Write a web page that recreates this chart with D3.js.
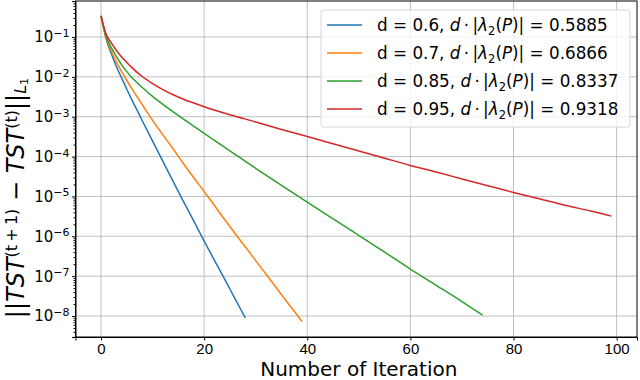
<!DOCTYPE html>
<html>
<head>
<meta charset="utf-8">
<script src="https://cdn.jsdelivr.net/npm/d3@7"></script>
<style>
  body { margin: 0; background: #fff; }
  svg { font-family: "DejaVu Sans", sans-serif; }
</style>
</head>
<body>
<div id="chart"></div>
<script>
// values (iteration, residual)
var blueIter = [0, 1, 2, 3, 4, 5, 6, 7, 8, 10, 12, 14, 16, 18, 20, 22, 24, 26, 28];
var blueVals = [3.4e-1, 8.9e-2, 3.8e-2, 1.8e-2, 9.3e-3, 4.9e-3, 2.6e-3, 1.45e-3, 7.9e-4, 2.45e-4, 7.6e-5,
  2.35e-5, 7.4e-6, 2.4e-6, 7.6e-7, 2.5e-7, 8.3e-8, 2.7e-8, 8.9e-9];

var orangeIter = [0, 1, 2, 3, 4, 5, 6, 7, 8, 9, 10, 12, 14, 16, 18, 20, 22, 24, 26, 28, 30, 32, 34, 36, 38, 39];
var orangeVals = [3.4e-1, 9.5e-2, 4.4e-2, 2.35e-2, 1.35e-2, 8.1e-3, 5.0e-3, 3.16e-3, 2.0e-3, 1.26e-3, 8.1e-4,
  3.5e-4, 1.55e-4, 6.6e-5, 2.95e-5, 1.32e-5, 5.9e-6, 2.6e-6, 1.17e-6, 5.4e-7, 2.45e-7, 1.12e-7,
  5.1e-8, 2.3e-8, 1.07e-8, 7.2e-9];

var greenIter = [0, 1, 2, 3, 4, 5, 6, 7, 8, 10, 12, 14, 16, 18, 20, 22, 24, 26, 28, 30, 35, 40, 45, 50, 55, 60, 65, 70, 74];
var greenVals = [3.4e-1, 1.05e-1, 5.4e-2, 3.2e-2, 2.0e-2, 1.35e-2, 9.5e-3, 7.1e-3, 5.4e-3, 3.24e-3, 2.04e-3,
  1.32e-3, 8.7e-4, 5.75e-4, 3.8e-4, 2.54e-4, 1.7e-4, 1.135e-4, 7.6e-5, 5.07e-5, 1.9e-5, 7.2e-6,
  2.75e-6, 1.05e-6, 4.0e-7, 1.5e-7, 5.9e-8, 2.3e-8, 1.05e-8];

var redIter = [0, 1, 2, 3, 4, 5, 6, 7, 8, 10, 12, 14, 16, 18, 20, 25, 30, 35, 40, 45, 50, 55, 60, 65, 70, 75, 80, 85, 90, 95, 99];
var redVals = [3.4e-1, 1.17e-1, 7.1e-2, 4.6e-2, 3.16e-2, 2.3e-2, 1.7e-2, 1.3e-2, 1.02e-2, 6.8e-3, 4.8e-3,
  3.55e-3, 2.75e-3, 2.2e-3, 1.78e-3, 1.12e-3, 7.4e-4, 4.8e-4, 3.2e-4, 2.1e-4, 1.38e-4, 9.1e-5,
  6.0e-5, 4.1e-5, 2.75e-5, 1.86e-5, 1.26e-5, 8.7e-6, 6.0e-6, 4.3e-6, 3.2e-6];

var dLabels = ["0.6", "0.7", "0.85", "0.95"];
var rateLabels = ["0.5885", "0.6866", "0.8337", "0.9318"];
var xTicks = [0, 20, 40, 60, 80, 100];
var yExps = [-1, -2, -3, -4, -5, -6, -7, -8];

var colors = ["#1f77b4", "#ff7f0e", "#2ca02c", "#d62728"];
var seriesIter = [blueIter, orangeIter, greenIter, redIter];
var seriesVals = [blueVals, orangeVals, greenVals, redVals];

var svgWidth = 640;
var svgHeight = 380;
var margin = { top: 1, right: 3, bottom: 43, left: 75.5 };
var width = svgWidth - margin.left - margin.right;
var height = svgHeight - margin.top - margin.bottom;

var svg = d3.select("#chart")
  .append("svg")
  .attr("width", svgWidth)
  .attr("height", svgHeight);

var chartGroup = svg.append("g")
  .attr("transform", `translate(${margin.left}, ${margin.top})`);

// scales, with matplotlib-like 5% padding
var xScale = d3.scaleLinear()
  .domain([-4.95, 103.95])
  .range([0, width]);

var yScale = d3.scaleLog()
  .domain([Math.pow(10, -8.527), Math.pow(10, -0.097)])
  .range([height, 0]);

// grid
chartGroup.selectAll(".xgrid")
  .data(xTicks)
  .enter()
  .append("line")
  .attr("x1", d => xScale(d))
  .attr("x2", d => xScale(d))
  .attr("y1", 0)
  .attr("y2", height)
  .attr("stroke", "#b0b0b0")
  .attr("stroke-width", 0.8);

chartGroup.selectAll(".ygrid")
  .data(yExps)
  .enter()
  .append("line")
  .attr("x1", 0)
  .attr("x2", width)
  .attr("y1", d => yScale(Math.pow(10, d)))
  .attr("y2", d => yScale(Math.pow(10, d)))
  .attr("stroke", "#b0b0b0")
  .attr("stroke-width", 0.8);

// axes
var bottomAxis = d3.axisBottom(xScale).tickValues(xTicks).tickSize(3.5).tickPadding(3);
var xAxisG = chartGroup.append("g")
  .attr("transform", `translate(0, ${height})`)
  .call(bottomAxis);
xAxisG.selectAll("text").attr("font-size", "15px").attr("fill", "#000");

// minor ticks for log axis
var minorTicks = [];
for (var e = -9; e <= -1; e++) {
  for (var m = 2; m <= 9; m++) {
    var v = m * Math.pow(10, e);
    if (v >= yScale.domain()[0] && v <= yScale.domain()[1]) minorTicks.push(v);
  }
}
var leftAxis = d3.axisLeft(yScale)
  .tickValues(yExps.map(d => Math.pow(10, d)))
  .tickSize(3.5)
  .tickFormat("");
var yAxisG = chartGroup.append("g").call(leftAxis);

chartGroup.append("g")
  .call(d3.axisLeft(yScale).tickValues(minorTicks).tickSize(2).tickFormat(""))
  .select(".domain").remove();

// y tick labels as 10^n
yExps.forEach(function(d) {
  var t = chartGroup.append("text")
    .attr("x", -6)
    .attr("y", yScale(Math.pow(10, d)) + 5.5)
    .attr("text-anchor", "end")
    .attr("font-size", "15px");
  t.append("tspan").text("10");
  t.append("tspan")
    .attr("dy", "-0.5em")
    .attr("font-size", "11px")
    .text("\u2212" + Math.abs(d));
});

// box
chartGroup.append("rect")
  .attr("width", width)
  .attr("height", height)
  .attr("fill", "none")
  .attr("stroke", "#000")
  .attr("stroke-width", 1);

// lines
var line = d3.line()
  .x(d => xScale(d[0]))
  .y(d => yScale(d[1]))
  .curve(d3.curveMonotoneX);

seriesIter.forEach(function(iters, i) {
  var pts = iters.map((it, j) => [it, seriesVals[i][j]]);
  chartGroup.append("path")
    .datum(pts)
    .attr("d", line)
    .attr("fill", "none")
    .attr("stroke", colors[i])
    .attr("stroke-width", 1.5);
});

// legend
var legend = svg.append("g").attr("transform", "translate(321, 10)");
legend.append("rect")
  .attr("width", 309)
  .attr("height", 117)
  .attr("rx", 3)
  .attr("fill", "#fff")
  .attr("fill-opacity", 0.8)
  .attr("stroke", "#d6d6d6");

dLabels.forEach(function(d, i) {
  var yy = 15 + i * 28;
  legend.append("line")
    .attr("x1", 6).attr("x2", 41)
    .attr("y1", yy).attr("y2", yy)
    .attr("stroke", colors[i])
    .attr("stroke-width", 1.5);
  var t = legend.append("text")
    .attr("x", 56)
    .attr("y", yy + 6)
    .attr("font-size", "16.8px");
  t.append("tspan").text("d = " + d + ", ");
  t.append("tspan").attr("font-style", "italic").text("d");
  t.append("tspan").text("\u2009\u00b7\u2009|");
  t.append("tspan").attr("font-style", "italic").text("\u03bb");
  t.append("tspan").attr("font-size", "11.5px").attr("dy", "4").text("2");
  t.append("tspan").attr("dy", "-4").text("(");
  t.append("tspan").attr("font-style", "italic").text("P");
  t.append("tspan").text(")| = " + rateLabels[i]);
});

// axis labels
svg.append("text")
  .attr("x", margin.left + xScale(50))
  .attr("y", 376)
  .attr("text-anchor", "middle")
  .attr("font-size", "20px")
  .text("Number of Iteration");

var yl = svg.append("text")
  .attr("transform", "translate(23.5, 198) rotate(-90)")
  .attr("text-anchor", "middle")
  .attr("font-size", "24px");
yl.append("tspan").text("||");
yl.append("tspan").attr("font-style", "italic").text("TST");
yl.append("tspan").attr("font-size", "16px").attr("dy", "-7").text("(t\u2009+\u20091)");
yl.append("tspan").attr("dy", "7").text(" \u2212 ");
yl.append("tspan").attr("font-style", "italic").text("TST");
yl.append("tspan").attr("font-size", "16px").attr("dy", "-7").text("(t)");
yl.append("tspan").attr("dy", "7").text("||");
yl.append("tspan").attr("font-size", "16px").attr("font-style", "italic").attr("dy", "2").text("L");
yl.append("tspan").attr("font-size", "11px").attr("dy", "2").text("1");
</script>
</body>
</html>
